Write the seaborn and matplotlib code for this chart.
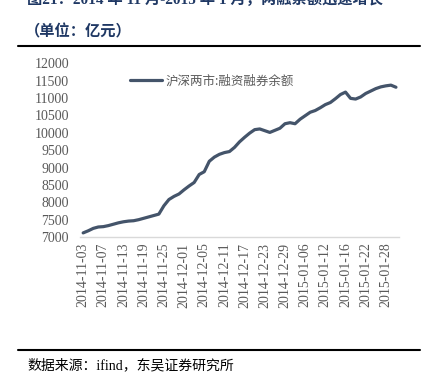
import numpy as np
import pandas as pd
import matplotlib.pyplot as plt
import seaborn as sns
from matplotlib.lines import Line2D

# 交易日：2014-11-03 至 2015-01-30（元旦休市）
dates = pd.bdate_range("2014-11-03", "2015-01-30")
dates = dates[~dates.isin(pd.to_datetime(["2015-01-01", "2015-01-02"]))]
date_labels = [d.strftime("%Y-%m-%d") for d in dates]

# 沪深两市融资融券余额（亿元）
balance = [
    7120, 7180, 7250, 7290, 7300, 7330, 7370, 7410, 7440, 7460,
    7470, 7500, 7540, 7580, 7620, 7660, 7900, 8080, 8170, 8240,
    8360, 8470, 8570, 8800, 8880, 9180, 9300, 9380, 9430, 9460,
    9580, 9740, 9870, 9990, 10090, 10110, 10060, 10010, 10070, 10130,
    10260, 10290, 10260, 10390, 10490, 10590, 10640, 10720, 10810, 10870,
    10980, 11100, 11170, 10990, 10970, 11030, 11130, 11200, 11270, 11320,
    11350, 11370, 11310,
]
series_name = "沪深两市:融资融券余额"
yticks = list(range(7000, 12001, 500))

df = pd.DataFrame({"pos": np.arange(len(balance)), "日期": date_labels, "余额": balance})

sns.set_style("white")
plt.rcParams["font.family"] = ["Liberation Serif", "Noto Sans CJK SC", "DejaVu Sans"]

fig = plt.figure(figsize=(4.24, 3.88), dpi=100)
ax = fig.add_axes([0.189, 0.389, 0.752, 0.448])

sns.lineplot(data=df, x="pos", y="余额", color="#44546A", linewidth=2.3,
             label=series_name, ax=ax)

ax.set_xlim(-0.6, len(balance) - 0.4)
ax.set_ylim(7000, 12000)
ax.set_yticks(yticks)
ax.set_xticks(df["pos"][::4])
ax.set_xticklabels(df["日期"][::4], rotation=90)
ax.tick_params(axis="both", length=0, labelsize=10, labelcolor="#595959")
ax.tick_params(axis="y", pad=8)
ax.tick_params(axis="x", pad=4)
ax.set_xlabel("")
ax.set_ylabel("")
for s in ["top", "right", "left"]:
    ax.spines[s].set_visible(False)
ax.spines["bottom"].set_color("#d9d9d9")
ax.spines["bottom"].set_linewidth(1.0)

leg = ax.legend(loc="upper left", bbox_to_anchor=(0.12, 1.0), frameon=False,
                handlelength=2.6, handletextpad=0.3,
                prop={"family": ["Noto Sans CJK SC"], "size": 9})
for t in leg.get_texts():
    t.set_color("#595959")

# 标题与来源
title_color = "#1F3864"
fig.text(0.064, 1.003, "图21：2014 年 11 月-2015 年 1 月，两融余额迅速增长",
         fontsize=11, fontweight="bold", color=title_color, va="center",
         family=["Liberation Serif", "Noto Sans CJK SC"])
fig.text(0.058, 1 - 31 / 388, "（单位：亿元）", fontsize=11, fontweight="bold",
         color=title_color, va="center", family=["Noto Sans CJK SC"])
fig.add_artist(Line2D([18 / 424, 420 / 424], [1 - 46 / 388] * 2, color="black", lw=1.5))
fig.add_artist(Line2D([18 / 424, 420 / 424], [1 - 350 / 388] * 2, color="black", lw=1.5))
fig.text(0.064, 1 - 365 / 388, "数据来源：ifind，东吴证券研究所", fontsize=10,
         color="black", va="center", family=["Liberation Serif", "Noto Sans CJK SC"])

plt.savefig("out.png", dpi=100)
